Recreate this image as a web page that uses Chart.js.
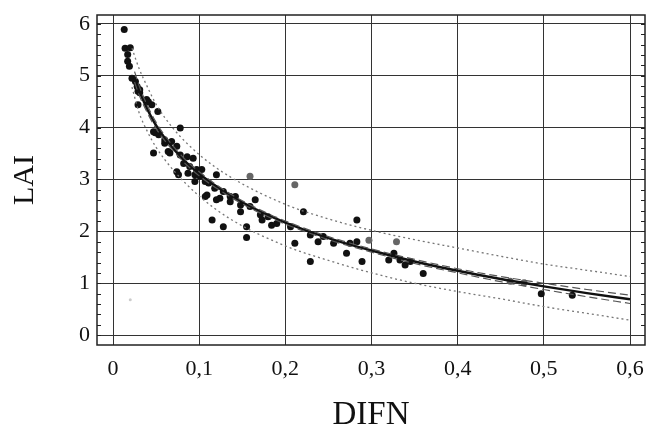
<!DOCTYPE html>
<html>
<head>
<meta charset="utf-8">
<script src="https://cdn.jsdelivr.net/npm/chart.js@4.4.1/dist/chart.umd.min.js"></script>
<style>
  html, body { margin: 0; padding: 0; background: #fff; }
  #wrap { width: 646px; height: 429px; }
</style>
</head>
<body>
<div id="wrap"><canvas id="chart" width="646" height="429"></canvas></div>
<script>
// measured points (DIFN, LAI)
const DIFN = [0.013,0.014,0.020,0.017,0.017,0.019,0.022,0.026,0.028,0.029,0.031,0.029,0.039,0.045,0.052,0.041,0.031,0.049,
  0.047,0.053,0.078,0.060,0.068,0.047,0.064,0.074,0.078,0.086,0.093,0.082,0.089,0.074,0.097,0.087,0.103,0.101,0.095,0.107,
  0.076,0.109,0.120,0.095,0.120,0.111,0.118,0.128,0.124,0.107,0.136,0.142,0.136,0.148,0.148,0.165,0.159,0.171,0.173,0.180,
  0.190,0.184,0.115,0.128,0.155,0.155,0.221,0.206,0.211,0.283,0.229,0.229,0.238,0.244,0.256,0.271,0.275,0.283,0.289,
  0.326,0.320,0.333,0.339,0.345,0.360,0.497,0.533,0.066,0.060];
const LAI = [5.89,5.53,5.54,5.41,5.28,5.18,4.95,4.89,4.79,4.70,4.67,4.44,4.54,4.44,4.31,4.50,4.73,3.90,
  3.92,3.86,3.99,3.70,3.73,3.51,3.54,3.64,3.47,3.44,3.41,3.31,3.25,3.15,3.19,3.12,3.19,3.06,2.96,2.96,
  3.09,2.70,2.61,3.09,3.09,2.93,2.83,2.77,2.64,2.67,2.67,2.67,2.57,2.51,2.38,2.61,2.48,2.32,2.22,2.28,
  2.15,2.12,2.22,2.09,2.09,1.88,2.38,2.09,1.77,2.22,1.42,1.93,1.80,1.90,1.77,1.58,1.77,1.80,1.42,
  1.58,1.45,1.45,1.35,1.42,1.19,0.80,0.77,3.51,3.76];

// lighter (grey) points
const GREY_DIFN = [0.159,0.211,0.297,0.329,0.461,0.477];
const GREY_LAI = [3.06,2.90,1.83,1.80,1.04,1.01];
const FAINT_DIFN = [0.020];
const FAINT_LAI = [0.68];

// fitted curve and confidence band
const FIT_X = [0.025,0.03,0.04,0.05,0.06,0.08,0.1,0.125,0.15,0.175,0.2,0.25,0.3,0.35,0.4,0.45,0.5,0.55,0.6];
const FIT_Y = [4.98,4.73,4.35,4.04,3.80,3.41,3.11,2.81,2.56,2.35,2.17,1.87,1.63,1.42,1.24,1.08,0.94,0.81,0.69];
const CONF_UP = [5.08,4.82,4.42,4.10,3.85,3.45,3.15,2.84,2.59,2.38,2.20,1.90,1.66,1.46,1.28,1.13,1.00,0.88,0.77];
const CONF_LO = [4.88,4.64,4.28,3.98,3.75,3.37,3.07,2.78,2.53,2.32,2.14,1.84,1.60,1.38,1.20,1.03,0.88,0.74,0.61];

// prediction band
const PRED_X = [0.022,0.03,0.04,0.05,0.07,0.1,0.136,0.2,0.25,0.3,0.35,0.4,0.45,0.5,0.55,0.6];
const PRED_UP = [5.53,5.15,4.78,4.45,3.98,3.48,3.05,2.52,2.24,2.02,1.84,1.68,1.52,1.37,1.25,1.13];
const PRED_LO = [4.78,4.30,3.92,3.62,3.18,2.68,2.24,1.72,1.44,1.20,1.00,0.84,0.70,0.55,0.42,0.29];

const X_TICKS = [0, 0.1, 0.2, 0.3, 0.4, 0.5, 0.6];
const Y_TICKS = [0, 1, 2, 3, 4, 5, 6];

const pts = (xs, ys) => xs.map((x, i) => ({ x: x, y: ys[i] }));
const serif = "'Liberation Serif', 'Times New Roman', serif";

const lineSet = (xs, ys, color, width, dash) => ({
  type: 'line',
  data: pts(xs, ys),
  borderColor: color,
  borderWidth: width,
  borderDash: dash,
  pointRadius: 0,
  fill: false,
  cubicInterpolationMode: 'monotone'
});

// frame + small inner ticks on the left and right edges
const framePlugin = {
  id: 'frame',
  afterDraw(chart) {
    const { ctx, chartArea: a, scales } = chart;
    ctx.save();
    ctx.strokeStyle = '#222';
    ctx.lineWidth = 1;
    for (let v = 0; v <= 6.1; v += 0.2) {
      const y = Math.round(scales.y.getPixelForValue(v)) + 0.5;
      ctx.beginPath();
      ctx.moveTo(a.left, y); ctx.lineTo(a.left + 4, y);
      ctx.moveTo(a.right, y); ctx.lineTo(a.right - 4, y);
      ctx.stroke();
    }
    ctx.lineWidth = 1.5;
    ctx.strokeRect(a.left, a.top, a.right - a.left, a.bottom - a.top);
    ctx.restore();
  }
};

new Chart(document.getElementById('chart'), {
  type: 'scatter',
  data: {
    datasets: [
      lineSet(PRED_X, PRED_UP, '#777', 1.3, [2, 3]),
      lineSet(PRED_X, PRED_LO, '#777', 1.3, [2, 3]),
      lineSet(FIT_X, CONF_UP, '#555', 1.2, [8, 4]),
      lineSet(FIT_X, CONF_LO, '#555', 1.2, [8, 4]),
      lineSet(FIT_X, FIT_Y, '#111', 2.5, []),
      { data: pts(DIFN, LAI), backgroundColor: '#111', borderColor: '#111', pointRadius: 3.5, borderWidth: 0 },
      { data: pts(GREY_DIFN, GREY_LAI), backgroundColor: '#666', borderColor: '#666', pointRadius: 3.5, borderWidth: 0 },
      { data: pts(FAINT_DIFN, FAINT_LAI), backgroundColor: '#ccc', borderColor: '#ccc', pointRadius: 1.5, borderWidth: 0 }
    ]
  },
  options: {
    responsive: false,
    animation: false,
    layout: { autoPadding: false, padding: { top: 15, right: 1, left: 0, bottom: 0 } },
    plugins: { legend: { display: false }, tooltip: { enabled: false } },
    scales: {
      x: {
        type: 'linear',
        min: -0.0186,
        max: 0.6174,
        afterBuildTicks: s => { s.ticks = X_TICKS.map(v => ({ value: v })); },
        afterFit: s => { s.height = 84; s.paddingLeft = 0; s.paddingRight = 0; },
        grid: { color: '#333', lineWidth: 1, drawTicks: false },
        border: { display: false },
        ticks: {
          padding: 11,
          color: '#111',
          font: { family: serif, size: 22 },
          callback: v => v === 0 ? '0' : v.toFixed(1).replace('.', ',')
        },
        title: { display: true, text: 'DIFN', color: '#111', font: { family: serif, size: 33, lineHeight: 0.85 }, padding: 0 }
      },
      y: {
        min: -0.19,
        max: 6.17,
        afterBuildTicks: s => { s.ticks = Y_TICKS.map(v => ({ value: v })); },
        afterFit: s => { s.width = 97; s.paddingTop = 0; s.paddingBottom = 0; },
        grid: { color: '#333', lineWidth: 1, drawTicks: false },
        border: { display: false },
        ticks: { padding: 7, color: '#111', font: { family: serif, size: 22 } },
        title: { display: true, text: 'LAI', color: '#111', font: { family: serif, size: 30 }, padding: { top: 7, bottom: 0 } }
      }
    }
  },
  plugins: [framePlugin]
});
</script>
</body>
</html>
